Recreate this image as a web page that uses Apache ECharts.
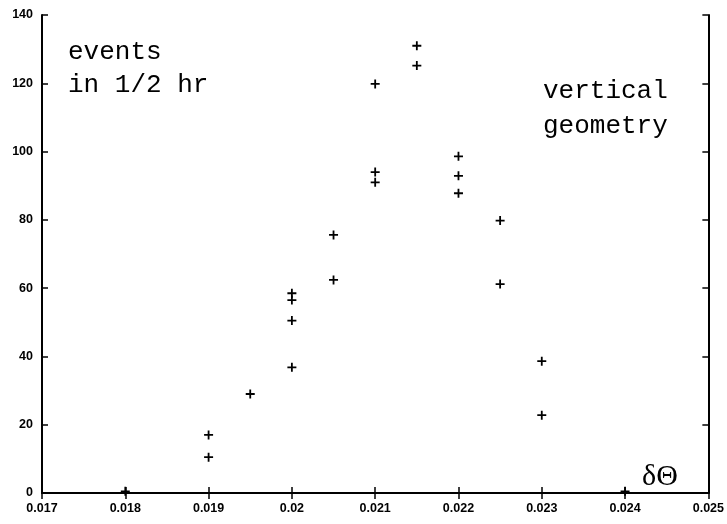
<!DOCTYPE html>
<html>
<head>
<meta charset="utf-8">
<script src="https://cdn.jsdelivr.net/npm/echarts@6/dist/echarts.min.js"></script>
<style>
  html, body { margin: 0; padding: 0; background: #fff; }
  #chart { width: 727px; height: 524px; }
</style>
</head>
<body>
<div id="chart"></div>
<script>
  // data: delta theta vs events in 1/2 hr
  var dTheta = [0.018, 0.019, 0.019, 0.0195, 0.020, 0.020, 0.020, 0.020, 0.0205, 0.0205,
                0.021, 0.021, 0.021, 0.0215, 0.0215, 0.022, 0.022, 0.022, 0.0225, 0.0225,
                0.023, 0.023, 0.024];
  var events = [0.5, 17, 10.5, 29, 58.5, 56.5, 50.5, 36.8, 75.6, 62.4,
                119.8, 94, 91, 131, 125.2, 98.6, 92.9, 87.8, 79.8, 61.2,
                38.6, 22.8, 0.5];
  var xTicks = { min: 0.017, max: 0.025, step: 0.001 };
  var yTicks = { min: 0, max: 140, step: 20 };

  var points = dTheta.map(function (x, i) { return [x, events[i]]; });

  var ink = '#000';
  var plus = 'path://M4,0H6V4H10V6H6V10H4V6H0V4H4Z';
  var tickFont = { color: ink, fontSize: 12.5, fontWeight: 'bold', fontFamily: 'Liberation Sans, Arial, sans-serif' };

  function fmt(v) { return String(parseFloat(v.toFixed(4))); }

  var chart = echarts.init(document.getElementById('chart'), null, { renderer: 'canvas' });
  chart.setOption({
    animation: false,
    backgroundColor: '#fff',
    grid: { left: 42, right: 16, top: 15, bottom: 31 },
    xAxis: [
      {
        type: 'value', min: xTicks.min, max: xTicks.max, interval: xTicks.step,
        position: 'bottom',
        axisLine: { onZero: false, lineStyle: { color: ink, width: 2 } },
        axisTick: { inside: true, length: 6, lineStyle: { color: ink, width: 1.5 } },
        axisLabel: Object.assign({ margin: 9, formatter: fmt }, tickFont),
        splitLine: { show: false }
      },
      {
        type: 'value', min: xTicks.min, max: xTicks.max, interval: xTicks.step,
        position: 'top',
        axisLine: { lineStyle: { color: ink, width: 2 } },
        axisTick: { inside: true, length: 6, lineStyle: { color: ink, width: 1.5 } },
        axisLabel: { show: false },
        splitLine: { show: false }
      }
    ],
    yAxis: [
      {
        type: 'value', min: yTicks.min, max: yTicks.max, interval: yTicks.step,
        position: 'left',
        axisLine: { show: true, onZero: false, lineStyle: { color: ink, width: 2 } },
        axisTick: { show: true, inside: true, length: 6, lineStyle: { color: ink, width: 1.5 } },
        axisLabel: Object.assign({ margin: 9 }, tickFont),
        splitLine: { show: false }
      },
      {
        type: 'value', min: yTicks.min, max: yTicks.max, interval: yTicks.step,
        position: 'right',
        axisLine: { show: true, lineStyle: { color: ink, width: 2 } },
        axisTick: { show: true, inside: true, length: 6, lineStyle: { color: ink, width: 1.5 } },
        axisLabel: { show: false },
        splitLine: { show: false }
      }
    ],
    series: [
      {
        type: 'scatter', data: points,
        symbol: plus, symbolSize: 9,
        itemStyle: { color: ink, opacity: 1 }
      }
    ],
    graphic: [
      { type: 'text', left: 68, top: 36, style: { text: 'events\nin 1/2 hr', fill: ink, font: '26px "Liberation Mono", monospace', lineHeight: 33 } },
      { type: 'text', left: 543, top: 74, style: { text: 'vertical\ngeometry', fill: ink, font: '26px "Liberation Mono", monospace', lineHeight: 35 } },
      { type: 'text', left: 642, top: 462, style: { text: 'δΘ', fill: ink, font: '30px "Liberation Serif", serif' } }
    ]
  });
</script>
</body>
</html>
